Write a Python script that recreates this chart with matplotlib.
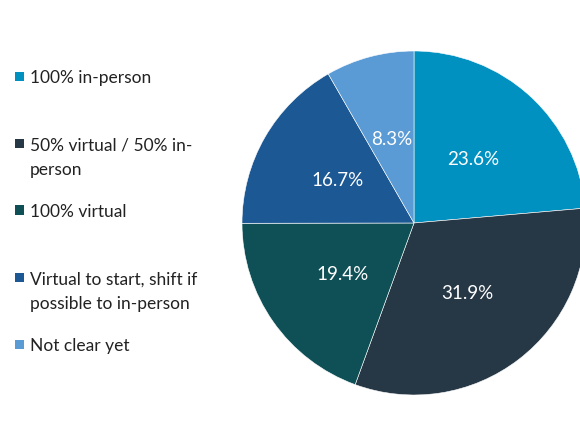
import matplotlib

matplotlib.use("Agg")
import matplotlib.pyplot as plt
from matplotlib.patches import Rectangle

plt.rcParams["font.family"] = ["Lato", "DejaVu Sans"]

# Data
labels = [
    "100% in-person",
    "50% virtual / 50% in-\nperson",
    "100% virtual",
    "Virtual to start, shift if\npossible to in-person",
    "Not clear yet",
]
shares = [23.6, 31.9, 19.4, 16.7, 8.3]
colors = ["#0091C1", "#263746", "#0F5057", "#1C5894", "#5B9BD5"]

fig = plt.figure(figsize=(5.8, 4.35), dpi=100)

# pie axes: centre ~ (414, 224) px, radius ~172 px
r_px = 172
cx, cy = 414, 224
ax = fig.add_axes([(cx - r_px) / 580, (435 - cy - r_px) / 435, 2 * r_px / 580, 2 * r_px / 435])
wedges, _, autotexts = ax.pie(
    shares,
    colors=colors,
    startangle=90,
    counterclock=False,
    autopct="%.1f%%",
    pctdistance=0.51,
    wedgeprops=dict(edgecolor="white", linewidth=0.4),
    textprops=dict(color="white", fontsize=13.5),
)
ax.set_aspect("equal")
ax.set_xlim(-1, 1)
ax.set_ylim(-1, 1)

# legend drawn by hand on the left
legend_y = [77, 144, 211, 278, 345]
for lab, col, y in zip(labels, colors, legend_y):
    fig.patches.append(
        Rectangle((15 / 580, 1 - (y + 4.5) / 435), 9 / 580, 9 / 435,
                  transform=fig.transFigure, facecolor=col, edgecolor="none")
    )
    fig.text(30 / 580, 1 - (y - 6.5) / 435, lab, ha="left", va="top",
             fontsize=12.5, color="#222222", linespacing=1.65)

fig.savefig("out.png", dpi=100)
